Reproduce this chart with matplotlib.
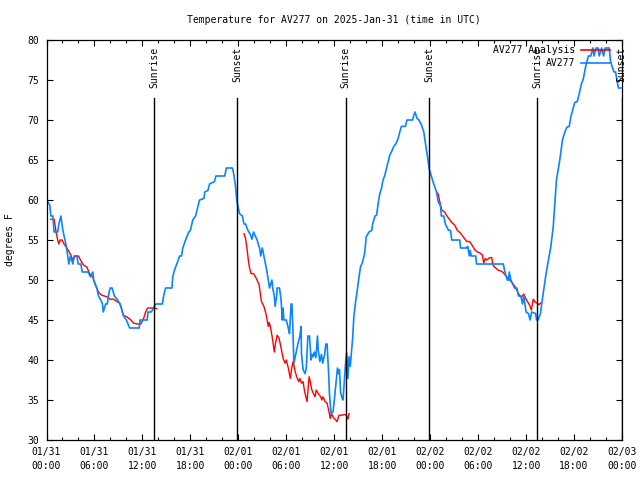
import matplotlib
matplotlib.use("Agg")
import matplotlib.pyplot as plt
from matplotlib.ticker import MultipleLocator

# hours since 01/31 00:00 UTC
obs_hours = [0.0, 0.4, 0.55, 0.8, 0.95, 1.4, 1.55, 1.8, 2.05, 2.4, 2.6, 2.8, 3.0, 3.3, 3.45, 3.8, 3.97, 4.3,
             4.47, 5.2, 5.5, 5.8, 5.9, 6.3, 6.5, 6.8, 7.0, 7.1, 7.4, 7.6, 7.8, 7.97, 8.2, 8.5, 8.9, 9.2, 9.5,
             9.7, 10.0, 10.4, 11.6, 11.7, 12.6, 12.7, 13.1, 13.4, 13.65, 14.5, 14.65, 14.9, 15.7, 15.8, 16.0,
             16.3, 16.65, 16.9, 17.05, 17.4, 17.8, 18.0, 18.3, 18.65, 18.95, 19.15, 19.7, 19.8, 20.2, 20.4,
             21.0, 21.2, 22.3, 22.5, 23.25, 23.4, 23.65, 23.8, 23.95, 24.15, 24.5, 24.7, 24.9, 25.2, 25.5,
             25.7, 25.9, 26.35, 26.7, 26.8, 27.0, 27.2, 27.5, 27.75, 27.9, 28.2, 28.3, 28.5, 28.6, 28.8,
             28.85, 29.15, 29.35, 29.5, 29.6, 29.7, 30.0, 30.25, 30.4, 30.6, 30.7, 30.8, 30.95, 31.2, 31.45,
             31.7, 31.85, 31.9, 32.1, 32.35, 32.5, 32.7, 32.9, 33.1, 33.2, 33.35, 33.5, 33.7, 33.9, 34.0,
             34.2, 34.4, 34.55, 34.8, 34.95, 35.1, 35.3, 35.4, 35.6, 35.85, 36.05, 36.25, 36.4, 36.55, 36.65,
             36.8, 37.0, 37.1, 37.25, 37.4, 37.55, 37.7, 37.85, 38.0, 38.3, 38.45, 38.7, 38.85, 39.1, 39.3,
             39.5, 39.8, 40.0, 40.35, 40.7, 40.8, 41.1, 41.3, 41.5, 41.7, 41.9, 42.1, 42.3, 42.6, 42.95,
             43.15, 43.45, 43.7, 44.0, 44.2, 44.4, 44.9, 45.1, 45.8, 45.95, 46.1, 46.35, 46.6, 46.9, 47.2,
             47.5, 47.7, 47.9, 48.2, 48.45, 48.8, 49.0, 49.3, 49.4, 49.7, 49.9, 50.3, 50.55, 50.7, 51.7,
             51.8, 52.55, 52.7, 52.9, 53.0, 53.15, 53.7, 53.8, 57.15, 57.35, 57.65, 57.8, 57.9, 58.1, 58.55,
             58.85, 59.05, 59.35, 59.55, 59.7, 60.0, 60.3, 60.5, 60.7, 61.2, 61.3, 61.5, 61.8, 61.95, 62.2,
             62.5, 62.8, 63.1, 63.4, 63.6, 63.8, 64.15, 64.3, 64.55, 64.85, 65.1, 65.4, 65.6, 65.95, 66.1,
             66.4, 66.65, 66.95, 67.15, 67.5, 67.8, 68.1, 68.35, 68.5, 68.75, 69.0, 69.15, 69.45, 69.7, 69.9,
             70.4, 70.55, 70.75, 71.0, 71.2, 71.4, 71.55, 71.85]
obs_temps = [60, 59.4, 58, 58, 56, 56, 57, 58, 56.2, 54.6, 53.4, 52, 53, 52, 53, 53, 52, 52,
             51, 51, 50.4, 51, 50, 49, 48, 47.5, 47, 46, 47, 47, 48.3, 49, 49, 48, 47.5, 47, 46,
             45.4, 45, 44, 44, 45, 45, 46, 46, 46.5, 47, 47, 48, 49, 49, 50.4, 51.2,
             52, 53, 53, 54, 55, 56, 56.2, 57.5, 58, 59.2, 60, 60.2, 61, 61.2, 62,
             62.3, 63, 63, 64, 64, 63.4, 61.7, 60, 59.2, 58.3, 58, 57, 57, 56.2, 55.7,
             55.1, 56, 55, 53.8, 53, 54, 53, 51.5, 50, 49, 50, 49, 48, 46.7, 48,
             49, 49, 47.5, 45, 46.5, 45, 45, 44, 43.3, 47, 47, 44.6, 39.6, 40.8, 42,
             43, 44.2, 40.8, 38.8, 38.3, 39, 43, 43, 40, 40.7, 40.4, 41, 40.3, 43, 41.2,
             39.8, 40.7, 39.6, 40.7, 42, 42, 38.3, 35.8, 33.3, 33.5, 35.4, 37.5, 39, 38.3, 38.8,
             35.9, 35.2, 35, 37.3, 39.4, 40.9, 37.7, 40.4, 39.2, 42.7, 45.4, 47.5, 48.5, 50.4, 51.7,
             52.1, 53.3, 55.4, 56, 56.2, 57, 58, 58.1, 59.6, 60.8, 61.4, 62.5, 63, 64.2, 65.6,
             66, 66.7, 67, 67.7, 68.5, 69.2, 69.2, 70, 70, 70.6, 71, 70.2, 70, 69.4, 68.5,
             66.5, 65.2, 63.8, 62.8, 62, 61, 59.8, 59.2, 58, 58, 57, 56.2, 56.2, 55, 55,
             54, 54, 54.2, 53, 53.7, 53, 53, 52, 52, 51, 50, 50, 51, 50, 49,
             49, 48, 48, 47, 48, 46, 45.8, 45, 46, 45.8, 45, 45, 45.8, 47, 48.7,
             50.8, 52.5, 54.2, 56.7, 59.6, 62.5, 64.6, 65.6, 67.5, 68.5, 69.1, 69.2, 70.4, 71.7, 72.2,
             72.3, 73.3, 74.6, 75.1, 76.9, 78, 78, 79, 78, 79, 79, 78, 79, 78, 79,
             79, 77.5, 76.7, 76, 76, 74.8, 74, 74]

ana1_hours = [0.55, 0.95, 1.05, 1.2, 1.4, 1.55, 1.7, 1.95, 2.2, 2.55, 2.95, 3.3, 3.6, 4.0, 4.3, 4.6, 5.05,
              5.4, 5.8, 6.1, 6.5, 6.9, 7.55, 7.95, 8.4, 8.8, 9.15, 9.35, 9.6, 10.05, 10.55, 10.9, 11.4,
              11.8, 12.15, 12.4, 12.65, 13.3, 13.6, 13.8]
ana1_temps = [57.6, 57.6, 57, 56, 55, 54.5, 55, 55, 54.5, 54, 53.3, 52.5, 53, 53, 52.4, 51.9, 51.6,
              50.8, 50.3, 49.4, 48.5, 48.1, 47.9, 47.6, 47.6, 47.3, 47.1, 46.6, 45.6, 45.4, 45, 44.6, 44.5,
              44.5, 45.2, 46, 46.5, 46.5, 46.5, 46.4]
ana2_hours = [24.7, 24.9, 25.1, 25.25, 25.4, 25.6, 25.9, 26.25, 26.6, 26.75, 26.9, 27.2, 27.45, 27.6,
              27.75, 27.85, 28.0, 28.2, 28.35, 28.5, 28.65, 28.85, 29.1, 29.35, 29.6, 29.85, 30.0, 30.25,
              30.5, 30.65, 30.85, 31.1, 31.3, 31.55, 31.7, 31.9, 32.1, 32.3, 32.6, 32.85, 33.0, 33.2, 33.4,
              33.6, 33.75, 34.0, 34.3, 34.45, 34.6, 34.85, 35.1, 35.3, 35.5, 35.65, 35.9, 36.1, 36.35, 36.6,
              37.0, 37.3, 37.5, 37.7, 37.85]
ana2_temps = [55.8, 55.2, 53.8, 52.5, 51.5, 50.8, 50.8, 50.2, 49.4, 48.3, 47.3, 46.7, 45.8, 45,
              44.2, 44.7, 44.2, 43.1, 42.1, 41, 42.1, 43.1, 42.7, 41.5, 40.2, 39.6, 40, 39,
              37.7, 38.8, 39.8, 38.6, 37.9, 37.3, 37.7, 37.1, 37.3, 36, 34.8, 37.9, 37.3, 36.25, 35.8,
              35.4, 36.25, 35.8, 35.4, 35, 35.4, 34.8, 34.6, 33.75, 32.7, 33.3, 32.8, 32.6, 32.3, 33.1,
              33.1, 33.2, 33.1, 32.6, 33.3]
ana3_hours = [48.8, 49.0, 49.2, 49.45, 49.8, 50.1, 50.4, 50.7, 51.1, 51.4, 51.75, 52.05, 52.35, 52.6,
              52.95, 53.3, 53.6, 53.9, 54.2, 54.55, 54.7, 54.9, 55.1, 55.45, 55.7, 55.8, 55.95, 56.2,
              56.55, 56.9, 57.15, 57.4, 57.65, 57.95, 58.3, 58.6, 58.85, 59.0, 59.3, 59.55, 59.7, 60.0,
              60.3, 60.5, 60.65, 60.9, 61.15, 61.4, 61.6, 61.8]
ana3_temps = [61, 60.75, 59.8, 58.75, 58.5, 58, 57.6, 57.2, 56.8, 56.2, 55.9, 55.5, 55.1, 54.8,
              54.8, 54.25, 53.75, 53.5, 53.4, 53.1, 52.1, 52.7, 52.5, 52.8, 52.8, 52.1, 51.7, 51.5,
              51.2, 51.1, 50.9, 50.6, 50.3, 50, 49.6, 49.2, 48.7, 48.4, 47.9, 48, 48.25, 47.6,
              47.1, 46.7, 46.25, 47.6, 47.2, 47.1, 46.9, 47.1]

sun_hours = [13.47, 23.88, 37.42, 47.9, 61.42, 71.97]
sun_labels = ["Sunrise", "Sunset", "Sunrise", "Sunset", "Sunrise", "Sunset"]

tick_hours = [0, 6, 12, 18, 24, 30, 36, 42, 48, 54, 60, 66, 72]
tick_labels = ["01/31\n00:00", "01/31\n06:00", "01/31\n12:00", "01/31\n18:00",
               "02/01\n00:00", "02/01\n06:00", "02/01\n12:00", "02/01\n18:00",
               "02/02\n00:00", "02/02\n06:00", "02/02\n12:00", "02/02\n18:00",
               "02/03\n00:00"]

red = "#ff0000"
blue = "#0a84ff"
fs = 7.0
plt.rcParams["font.family"] = ["DejaVu Sans Mono"]
plt.rcParams["font.size"] = fs

fig = plt.figure(figsize=(6.4, 4.8), dpi=100)
ax = fig.add_axes([46.5 / 640, 40 / 480, 575.5 / 640, 400 / 480])

for h, t in [(ana1_hours, ana1_temps), (ana2_hours, ana2_temps), (ana3_hours, ana3_temps)]:
    ax.plot(h, t, color=red, lw=1.0)
ax.plot(obs_hours, obs_temps, color=blue, lw=1.2)

for h, lab in zip(sun_hours, sun_labels):
    ax.plot([h, h], [30, 72.7], color="black", lw=1.0)
    ax.text(h, 79.1, lab, rotation=90, ha="center", va="top", fontsize=fs)

# legend, gnuplot style (text right aligned, sample to the right)
for yy, lab, col in [(0.974, "AV277 Analysis", red), (0.942, "AV277", blue)]:
    ax.text(0.918, yy, lab, ha="right", va="center", transform=ax.transAxes, fontsize=fs)
    ax.plot([0.928, 0.98], [yy, yy], color=col, lw=1.2, transform=ax.transAxes)

ax.set_xlim(0, 72)
ax.set_ylim(30, 80)
ax.set_xticks(tick_hours)
ax.set_xticklabels(tick_labels, linespacing=1.5)
ax.xaxis.set_minor_locator(MultipleLocator(2))
ax.yaxis.set_major_locator(MultipleLocator(5))
ax.tick_params(which="both", direction="in", top=True, right=True, width=0.8)
ax.tick_params(which="major", length=4.5, pad=5)
ax.tick_params(which="minor", length=2.5)
for s in ax.spines.values():
    s.set_linewidth(0.9)

ax.set_ylabel("degrees F", labelpad=9)
fig.text((46.5 + 575.5 / 2) / 640, 1 - 20 / 480, "Temperature for AV277 on 2025-Jan-31 (time in UTC)",
         ha="center", va="center", fontsize=fs)

fig.savefig("out.png", dpi=100)
